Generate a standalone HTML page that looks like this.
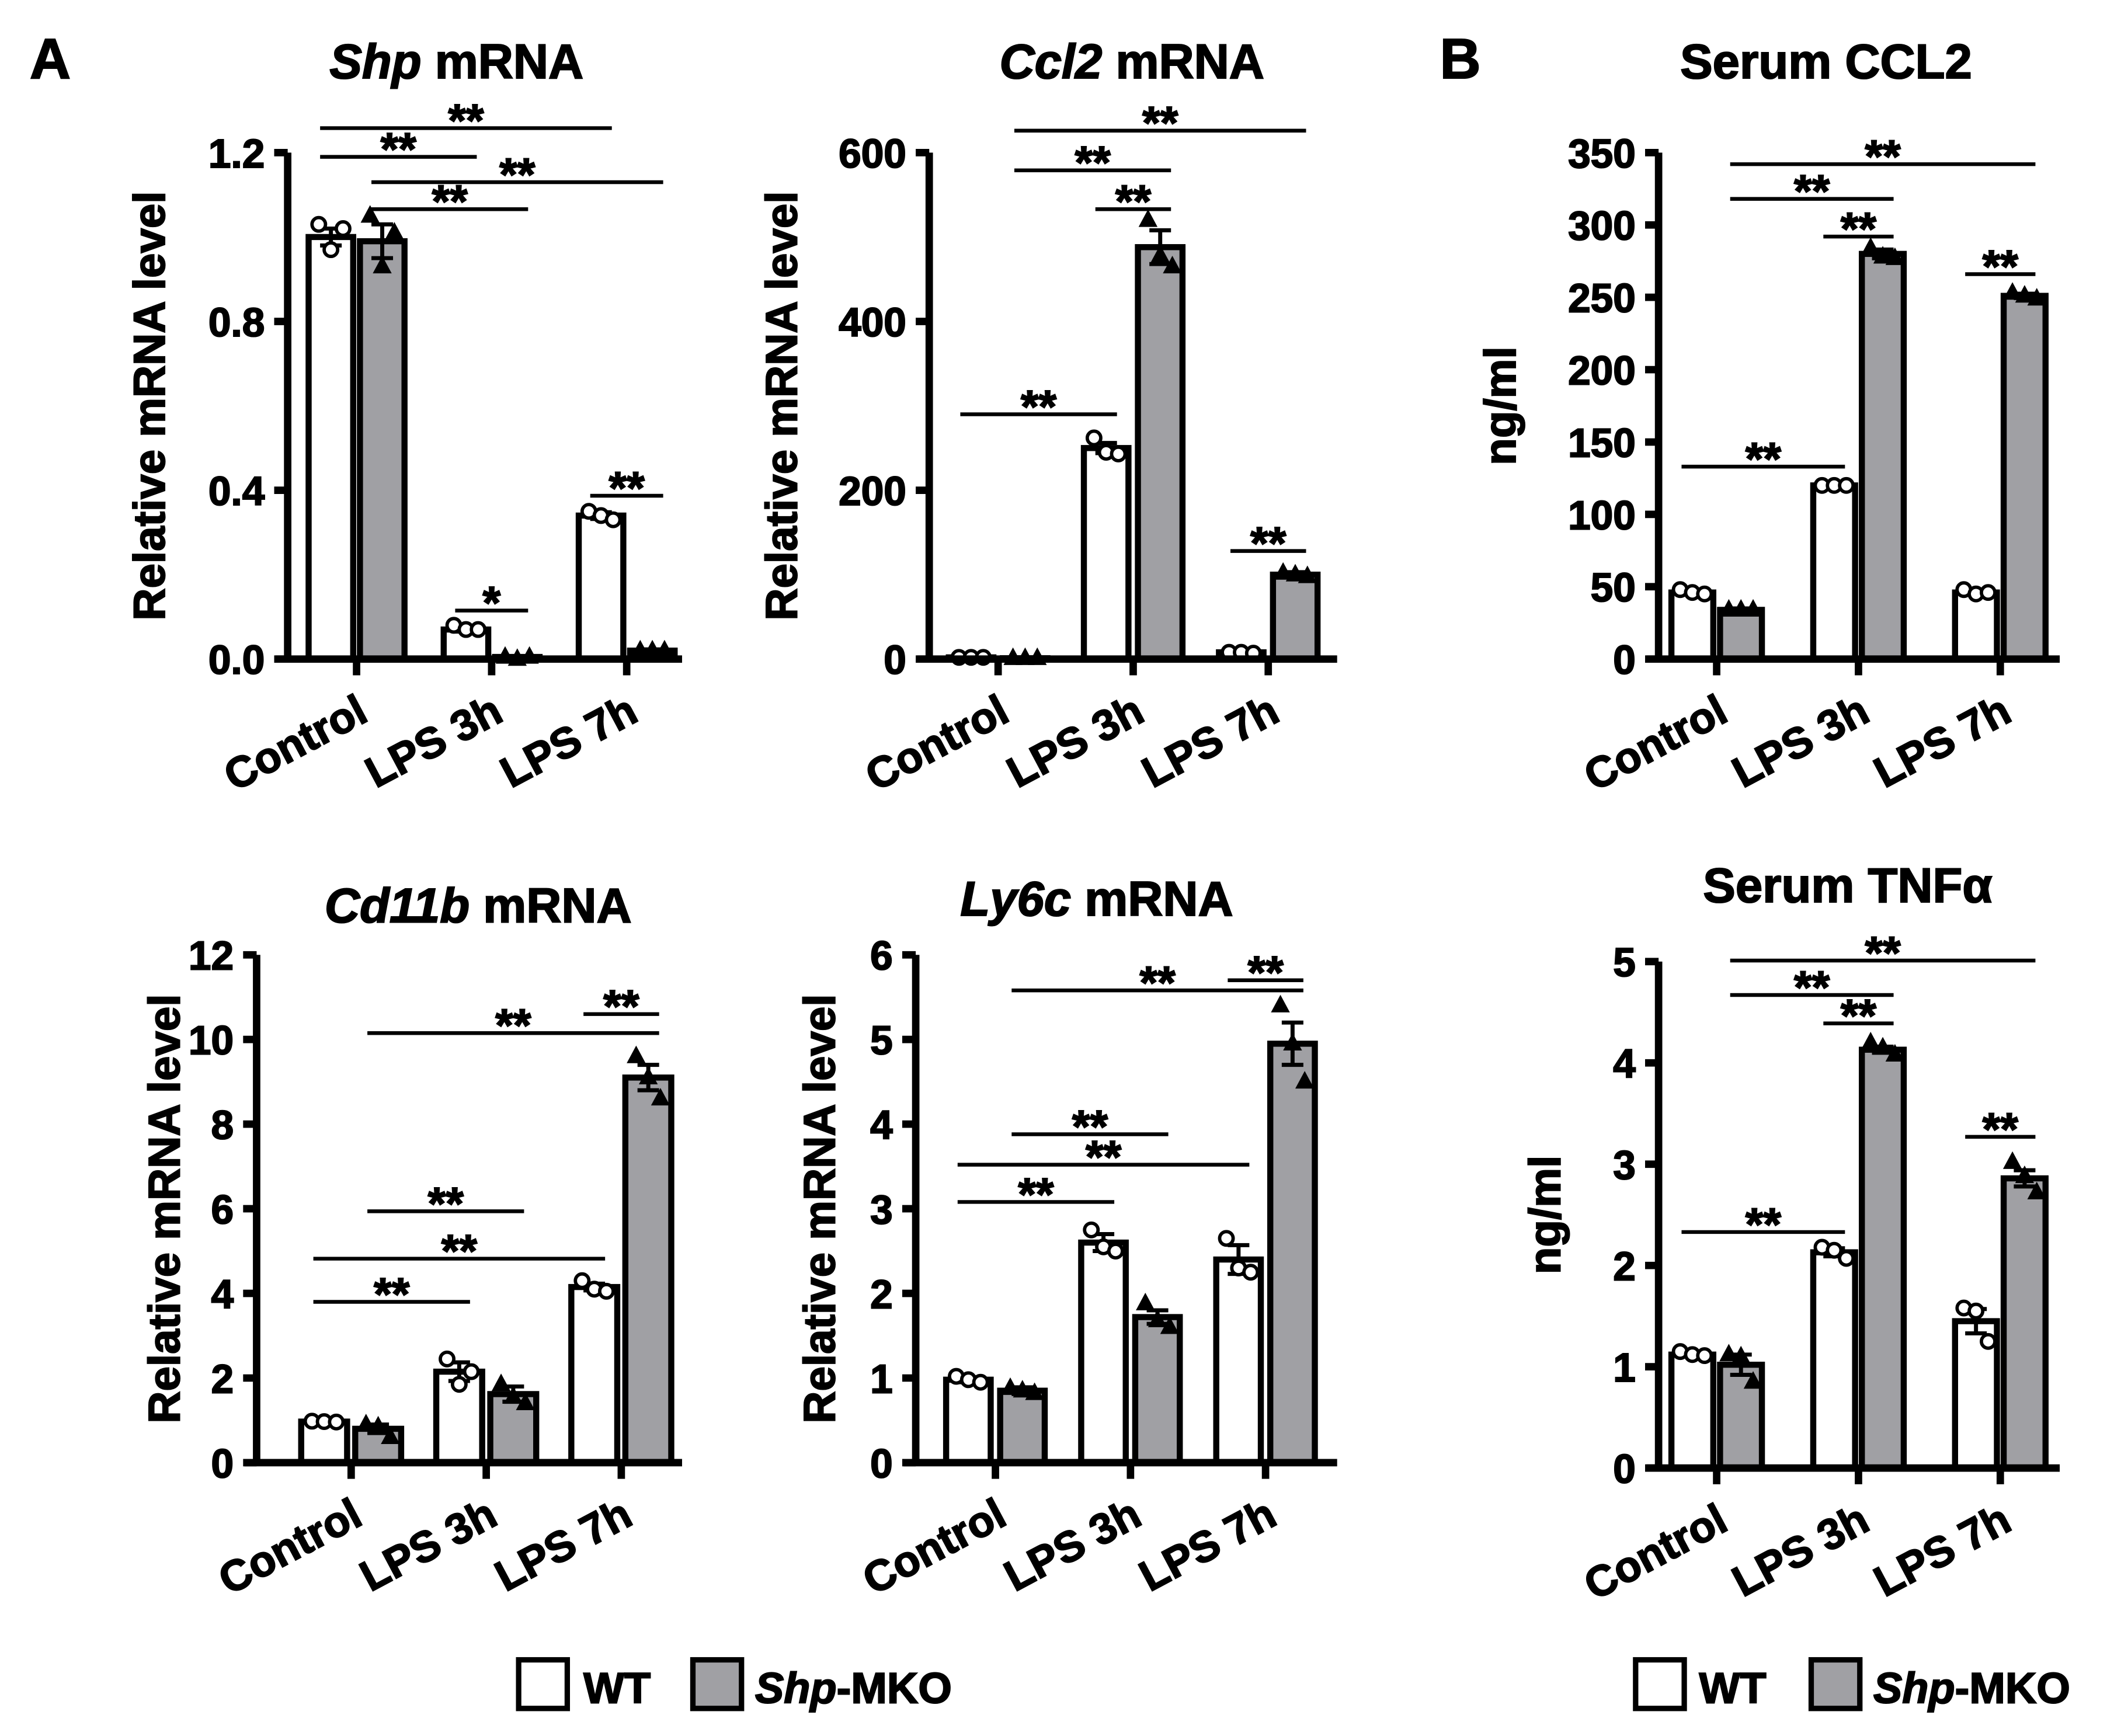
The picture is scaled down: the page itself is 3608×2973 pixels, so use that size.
<!DOCTYPE html>
<html><head><meta charset="utf-8"><style>
html,body{margin:0;padding:0;background:#fff}
svg{display:block}
text{font-family:"Liberation Sans",sans-serif;font-weight:bold;fill:#000;stroke:#000;stroke-width:0.9px}
</style></head><body>
<svg id="fig" xmlns="http://www.w3.org/2000/svg" width="3608" height="2973" viewBox="0 0 1560 1285.4" preserveAspectRatio="none">
<text x="22" y="58" font-size="42">A</text>
<text x="1066" y="58" font-size="42">B</text>
<g>
<rect x="384" y="1229" width="36" height="36" fill="#fff" stroke="#000" stroke-width="4"/>
<text x="432" y="1261" font-size="32">WT</text>
<rect x="513" y="1229" width="36" height="36" fill="#a0a0a4" stroke="#000" stroke-width="4"/>
<text x="559" y="1261" font-size="32"><tspan font-style="italic">Shp</tspan>-MKO</text>
</g>
<g>
<rect x="1211" y="1229" width="36" height="36" fill="#fff" stroke="#000" stroke-width="4"/>
<text x="1258" y="1261" font-size="32">WT</text>
<rect x="1341" y="1229" width="36" height="36" fill="#a0a0a4" stroke="#000" stroke-width="4"/>
<text x="1387" y="1261" font-size="32"><tspan font-style="italic">Shp</tspan>-MKO</text>
</g>
</svg>
<script>
const categories = ["Control","LPS 3h","LPS 7h"];

const shpTicks = [0,0.4,0.8,1.2];
const shpTickLabels = ["0.0","0.4","0.8","1.2"];
const shpWT = [1.0,0.07,0.34];
const shpKO = [0.99,0.005,0.02];
const shpWTerr = [0.02,0.005,0.008];
const shpKOerr = [0.04,0.002,0.003];
const shpWTpts = [[1.03,0.97,1.02],[0.08,0.07,0.07],[0.35,0.34,0.33]];
const shpKOpts = [[1.05,0.93,1.01],[0.005,0.0,0.005],[0.02,0.02,0.02]];
const shpSig = [[0,0,2,0,1.258,"**"],[0,0,1,0,1.19,"**"],[0,1,2,1,1.13,"**"],[0,1,1,1,1.066,"**"],[1,0,1,1,0.115,"*"],[2,0,2,1,0.387,"**"]];

const ccl2Ticks = [0,200,400,600];
const ccl2TickLabels = ["0","200","400","600"];
const ccl2WT = [2,250,8];
const ccl2KO = [1,488,100];
const ccl2WTerr = [0.5,6,1];
const ccl2KOerr = [0.5,20,3];
const ccl2WTpts = [[2,2,2],[262,245,243],[8,8,7]];
const ccl2KOpts = [[1,1,1],[520,478,465],[102,100,98]];
const ccl2Sig = [[0,0,1,0,290,"**"],[1,0,1,1,533,"**"],[0,1,1,1,579,"**"],[0,1,2,1,626,"**"],[2,0,2,1,128,"**"]];

const cclSerumTicks = [0,50,100,150,200,250,300,350];
const cclSerumTickLabels = ["0","50","100","150","200","250","300","350"];
const cclSerumWT = [46,120,46];
const cclSerumKO = [34,280,251];
const cclSerumWTerr = [1.5,0.5,1.5];
const cclSerumKOerr = [1,3,1.5];
const cclSerumWTpts = [[48,46,45],[120,120,120],[48,45,46]];
const cclSerumKOpts = [[34,34,34],[284,278,277],[253,251,249]];
const cclSerumSig = [[0,0,1,0,133,"**"],[1,0,1,1,292,"**"],[0,1,1,1,318,"**"],[0,1,2,1,342,"**"],[2,0,2,1,266,"**"]];

const cd11bTicks = [0,2,4,6,8,10,12];
const cd11bTickLabels = ["0","2","4","6","8","10","12"];
const cd11bWT = [0.97,2.15,4.15];
const cd11bKO = [0.8,1.62,9.1];
const cd11bWTerr = [0.02,0.22,0.08];
const cd11bKOerr = [0.1,0.18,0.3];
const cd11bWTpts = [[0.98,0.97,0.96],[2.45,1.85,2.15],[4.3,4.1,4.05]];
const cd11bKOpts = [[0.9,0.85,0.6],[1.85,1.55,1.4],[9.6,9.1,8.6]];
const cd11bSig = [[0,0,1,0,3.8,"**"],[0,0,2,0,4.82,"**"],[0,1,1,1,5.94,"**"],[0,1,2,1,10.15,"**"],[2,0,2,1,10.6,"**"]];

const ly6cTicks = [0,1,2,3,4,5,6];
const ly6cTickLabels = ["0","1","2","3","4","5","6"];
const ly6cWT = [0.98,2.6,2.4];
const ly6cKO = [0.85,1.72,4.95];
const ly6cWTerr = [0.03,0.1,0.17];
const ly6cKOerr = [0.04,0.08,0.25];
const ly6cWTpts = [[1.02,0.98,0.95],[2.75,2.55,2.5],[2.65,2.3,2.25]];
const ly6cKOpts = [[0.88,0.85,0.82],[1.88,1.68,1.6],[5.4,4.95,4.5]];
const ly6cSig = [[0,0,1,0,3.08,"**"],[0,0,2,0,3.52,"**"],[0,1,1,1,3.88,"**"],[0,1,2,1,5.58,"**"],[2,0,2,1,5.7,"**"]];

const tnfTicks = [0,1,2,3,4,5];
const tnfTickLabels = ["0","1","2","3","4","5"];
const tnfWT = [1.12,2.13,1.45];
const tnfKO = [1.02,4.13,2.86];
const tnfWTerr = [0.02,0.04,0.12];
const tnfKOerr = [0.1,0.03,0.08];
const tnfWTpts = [[1.15,1.12,1.11],[2.18,2.15,2.07],[1.58,1.55,1.25]];
const tnfKOpts = [[1.12,1.1,0.85],[4.2,4.15,4.08],[3.02,2.88,2.72]];
const tnfSig = [[0,0,1,0,2.33,"**"],[1,0,1,1,4.39,"**"],[0,1,1,1,4.67,"**"],[0,1,2,1,5.01,"**"],[2,0,2,1,3.27,"**"]];

const NS="http://www.w3.org/2000/svg";
const svg=document.getElementById('fig');
function mk(tag,attrs,parent){const e=document.createElementNS(NS,tag);for(const k in attrs)e.setAttribute(k,attrs[k]);(parent||svg).appendChild(e);return e;}

function panel(cfg){
  const g=mk('g',{});
  
  
  const ymax=cfg.ticks[cfg.ticks.length-1];
  const y=v=>cfg.y0-(v/ymax)*(cfg.y0-cfg.y1);
  const xc=i=>cfg.x0+i*cfg.step;
  const off=[-cfg.off,cfg.off];
  const t=mk('text',{x:cfg.tx,y:cfg.ty,'font-size':36,'text-anchor':'middle'},g);
  
  
  if(cfg.italic){const s=mk('tspan',{'font-style':'italic'},t);s.textContent=cfg.italic;const s2=mk('tspan',{},t);s2.textContent=' '+cfg.title;}else t.textContent=cfg.title;
  const yl=mk('text',{x:0,y:0,'font-size':33,'text-anchor':'middle',transform:`translate(${cfg.ylx},${(cfg.y0+cfg.y1)/2}) rotate(-90)`},g);
  
  
  yl.textContent=cfg.ylabel;
  const series=[[cfg.wt,cfg.wtErr,cfg.wtPts,'#fff','wt'],[cfg.ko,cfg.koErr,cfg.koPts,'#a0a0a4','ko']];
  series.forEach((s,si)=>{
    s[0].forEach((v,i)=>{
      const cx=xc(i)+off[si];
      const r=mk('rect',{x:cx-cfg.bw/2,y:y(v),width:cfg.bw,height:Math.max(0,cfg.y0-y(v)),fill:s[3],stroke:'#000','stroke-width':4.5},g);
      
      
      const e=s[1][i];
      const eb=mk('path',{d:`M${cx} ${y(v-e)}V${y(v+e)}M${cx-8} ${y(v+e)}H${cx+8}M${cx-8} ${y(v-e)}H${cx+8}`,stroke:'#000','stroke-width':3,fill:'none'},g);
      
      
      s[2][i].forEach((p,pi)=>{
        const px=cx+(pi-1)*9;
        let m;
        if(si===0){m=mk('circle',{cx:px,cy:y(p),r:5,fill:'#fff',stroke:'#000','stroke-width':2.5},g);}
        else{const py=y(p);m=mk('path',{d:`M${px} ${py-8}L${px+7} ${py+5}L${px-7} ${py+5}Z`,fill:'#000'},g);}
        
        
      });
    });
  });
  const ax=mk('path',{d:`M${cfg.ax} ${cfg.y1}V${cfg.y0+2}M${cfg.ax-9} ${cfg.y0}H${cfg.xend}`,stroke:'#000','stroke-width':5.5,fill:'none'},g);
  
  
  cfg.ticks.forEach((tv,i)=>{
    const tk=mk('path',{d:`M${cfg.ax-10} ${y(tv)}H${cfg.ax}`,stroke:'#000','stroke-width':5.5},g);
    
    
    const tl=mk('text',{x:cfg.ax-17,y:y(tv)+11,'font-size':30,'text-anchor':'end'},g);
    
    
    tl.textContent=cfg.tickLabels[i];
  });
  categories.forEach((c,i)=>{
    const tk=mk('path',{d:`M${xc(i)} ${cfg.y0}V${cfg.y0+12}`,stroke:'#000','stroke-width':5.5},g);
    
    
    const tl=mk('text',{x:0,y:0,'font-size':32,'text-anchor':'end',transform:`translate(${xc(i)+10},${cfg.y0+45}) rotate(-28)`},g);
    
    
    tl.textContent=c;
  });
  cfg.sig.forEach(s=>{
    const xa=xc(s[0])+off[s[1]]-8, xb=xc(s[2])+off[s[3]]+8, yy=y(s[4]);
    const l=mk('path',{d:`M${xa} ${yy}H${xb}`,stroke:'#000','stroke-width':2.8},g);
    
    
    const st=mk('text',{x:(xa+xb)/2,y:yy+6,'font-size':34,'text-anchor':'middle'},g);
    
    
    st.textContent=s[5];
  });
}

panel({id:'shp',italic:'Shp',title:'mRNA',tx:338,ty:58,ylabel:'Relative mRNA level',ylx:122,ax:213,y0:488,y1:113,xend:505,x0:264,step:100,off:19,bw:33,
 ticks:shpTicks,tickLabels:shpTickLabels,wt:shpWT,ko:shpKO,wtErr:shpWTerr,koErr:shpKOerr,wtPts:shpWTpts,koPts:shpKOpts,sig:shpSig});
panel({id:'ccl2',italic:'Ccl2',title:'mRNA',tx:838,ty:58,ylabel:'Relative mRNA level',ylx:590,ax:688,y0:488,y1:113,xend:990,x0:739,step:100,off:20,bw:33,
 ticks:ccl2Ticks,tickLabels:ccl2TickLabels,wt:ccl2WT,ko:ccl2KO,wtErr:ccl2WTerr,koErr:ccl2KOerr,wtPts:ccl2WTpts,koPts:ccl2KOpts,sig:ccl2Sig});
panel({id:'serum-ccl2',title:'Serum CCL2',tx:1352,ty:58,ylabel:'ng/ml',ylx:1122,ax:1228,y0:488,y1:113,xend:1525,x0:1271,step:105,off:18,bw:31,
 ticks:cclSerumTicks,tickLabels:cclSerumTickLabels,wt:cclSerumWT,ko:cclSerumKO,wtErr:cclSerumWTerr,koErr:cclSerumKOerr,wtPts:cclSerumWTpts,koPts:cclSerumKOpts,sig:cclSerumSig});
panel({id:'cd11b',italic:'Cd11b',title:'mRNA',tx:354,ty:683,ylabel:'Relative mRNA level',ylx:133,ax:190,y0:1083,y1:707,xend:505,x0:260,step:100,off:20,bw:34,
 ticks:cd11bTicks,tickLabels:cd11bTickLabels,wt:cd11bWT,ko:cd11bKO,wtErr:cd11bWTerr,koErr:cd11bKOerr,wtPts:cd11bWTpts,koPts:cd11bKOpts,sig:cd11bSig});
panel({id:'ly6c',italic:'Ly6c',title:'mRNA',tx:812,ty:678,ylabel:'Relative mRNA level',ylx:618,ax:678,y0:1083,y1:707,xend:990,x0:737,step:100,off:20,bw:33,
 ticks:ly6cTicks,tickLabels:ly6cTickLabels,wt:ly6cWT,ko:ly6cKO,wtErr:ly6cWTerr,koErr:ly6cKOerr,wtPts:ly6cWTpts,koPts:ly6cKOpts,sig:ly6cSig});
panel({id:'serum-tnf',title:'Serum TNF\u03b1',tx:1368,ty:668,ylabel:'ng/ml',ylx:1155,ax:1228,y0:1087,y1:712,xend:1525,x0:1271,step:105,off:18,bw:31,
 ticks:tnfTicks,tickLabels:tnfTickLabels,wt:tnfWT,ko:tnfKO,wtErr:tnfWTerr,koErr:tnfKOerr,wtPts:tnfWTpts,koPts:tnfKOpts,sig:tnfSig});
</script>
</body></html>
